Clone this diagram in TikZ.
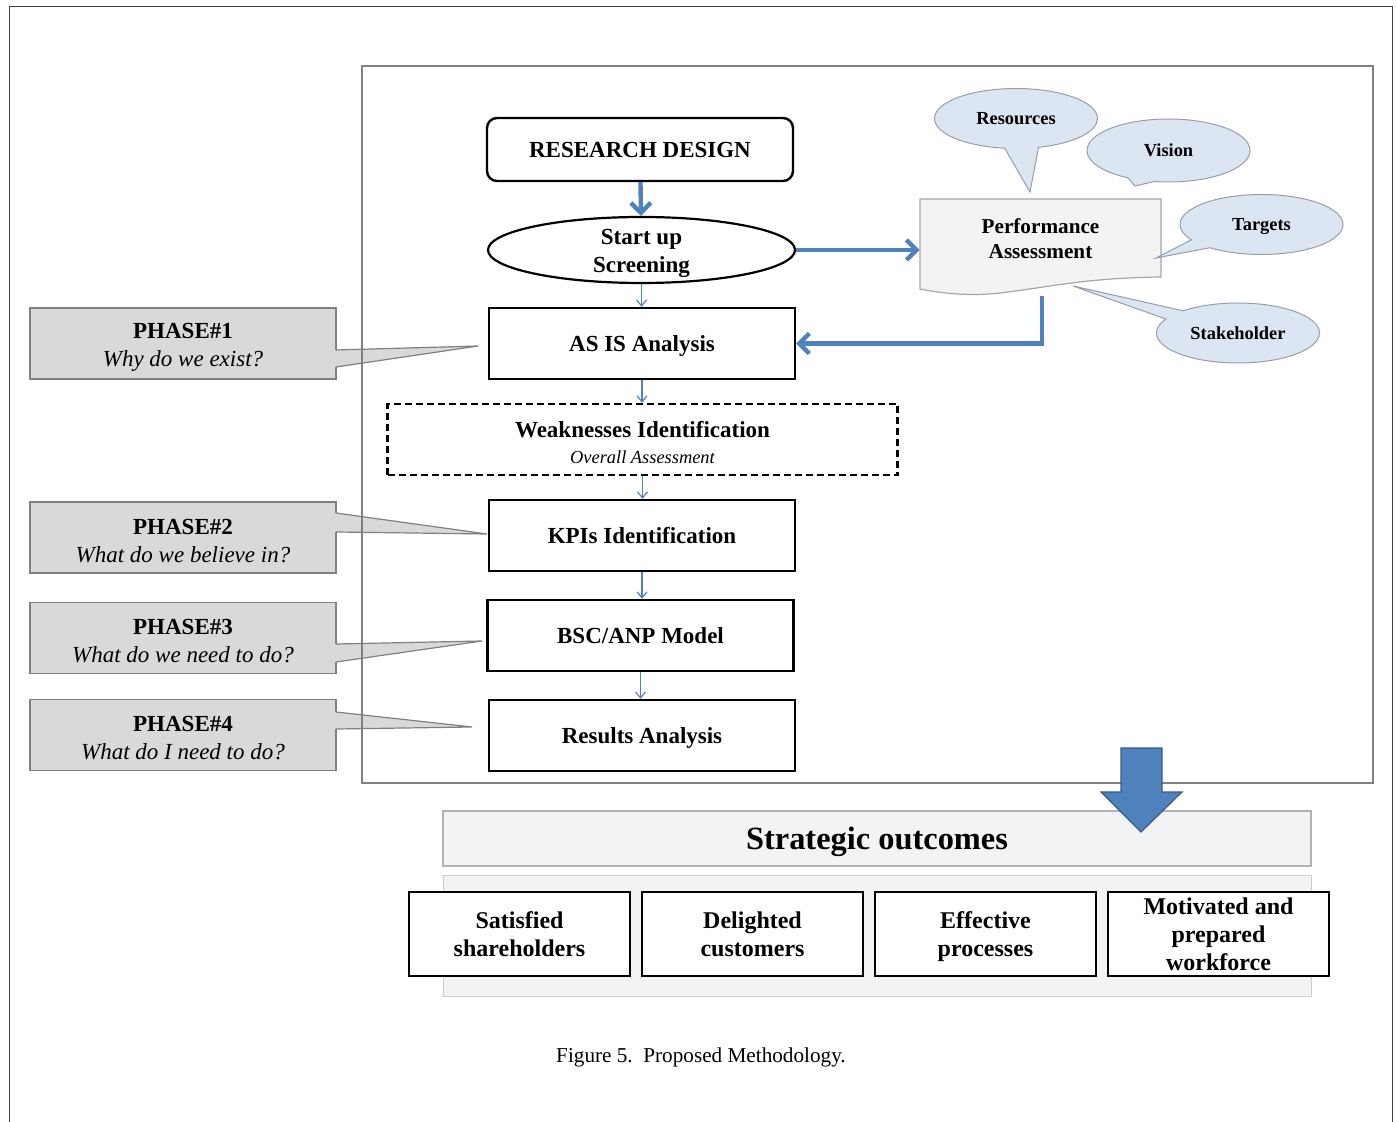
\documentclass[tikz,border=0pt]{standalone}
\usepackage{fontspec}
\setmainfont{Liberation Serif}
\usetikzlibrary{shapes, arrows.meta, positioning}

\definecolor{flowblue}{RGB}{79,129,189}
\definecolor{flowbluedark}{RGB}{56,93,138}
\definecolor{bubblefill}{RGB}{220,230,242}
\definecolor{bubbleline}{RGB}{150,158,170}
\definecolor{paperfill}{RGB}{243,243,244}
\definecolor{phasefill}{RGB}{217,217,217}
\definecolor{phaseline}{RGB}{128,128,128}
\definecolor{outfill}{RGB}{242,243,245}

\begin{document}
\begin{tikzpicture}[x=0.5pt, y=-0.5pt]
    \tikzstyle{startstop} = [rectangle, draw, rounded corners=5pt, line width=1.2pt, minimum width=153pt, minimum height=31.5pt, inner sep=0pt, text centered, text height=7.7pt, text depth=0pt, font=\fontsize{11.5}{14}\selectfont\bfseries]
    \tikzstyle{screening} = [ellipse, draw, line width=1.1pt, minimum width=153.5pt, minimum height=33pt, inner xsep=0pt, inner ysep=-3pt, align=center, font=\fontsize{11.5}{14}\selectfont\bfseries]
    \tikzstyle{process} = [rectangle, draw, line width=1.2pt, minimum width=153pt, minimum height=35.5pt, inner sep=0pt, text centered, text height=7.7pt, text depth=0pt, font=\fontsize{11.5}{14}\selectfont\bfseries]
    \tikzstyle{weakbox} = [rectangle, draw, line width=1.2pt, dash pattern=on 3.5pt off 2pt, minimum width=255pt, minimum height=35.5pt, inner sep=0pt, align=center, font=\fontsize{11.5}{13}\selectfont\bfseries]
    \tikzstyle{perfbox} = [rectangle, minimum width=120.5pt, inner sep=0pt, align=center, font=\fontsize{10.6}{12.5}\selectfont\bfseries]
    \tikzstyle{bubble} = [ellipse callout, draw=bubbleline, fill=bubblefill, line width=0.5pt, minimum width=81.5pt, minimum height=30pt, inner sep=0pt, callout pointer arc=20, text height=6.2pt, text depth=0pt, font=\fontsize{9.2}{11}\selectfont\bfseries]
    \tikzstyle{phase} = [rectangle, draw=phaseline, fill=phasefill, line width=0.6pt, minimum width=153pt, minimum height=35.5pt, inner sep=0pt, align=center, font=\fontsize{11.5}{14}\selectfont]
    \tikzstyle{outcome} = [rectangle, draw=gray!60, fill=outfill, line width=0.6pt, minimum width=434pt, minimum height=27.5pt, inner sep=0pt, text height=10.8pt, text depth=0pt, font=\fontsize{16.2}{19}\selectfont\bfseries]
    \tikzstyle{panelbox} = [rectangle, draw=gray!40, fill=outfill, line width=0.5pt, minimum width=434pt, minimum height=60.5pt, inner sep=0pt]
    \tikzstyle{goal} = [rectangle, draw, fill=white, line width=1.2pt, minimum width=110.5pt, minimum height=42pt, inner sep=0pt, align=center, font=\fontsize{12}{14}\selectfont\bfseries]
    \tikzstyle{thickarrow} = [draw=flowblue, line width=2.2pt, -{Straight Barb[length=5pt,width=10pt]}]
    \tikzstyle{thinarrow} = [draw=flowblue, line width=0.6pt, -{Straight Barb[length=3pt,width=5pt]}]

    \useasboundingbox (0,0) rectangle (1397,1122);

    % main flow
    \node (design) [startstop] at (640,149.5) {RESEARCH DESIGN};
    \node (screen) [screening] at (641.5,250) {\rule{0pt}{11.5pt}Start up\\Screening};
    \node (asis) [process] at (642,343.5) {AS IS Analysis};
    \node (weak) [weakbox] at (642.5,439.5) {\rule{0pt}{11pt}Weaknesses Identification\\{\fontsize{9.2}{11}\selectfont\mdseries\itshape Overall Assessment}};
    \node (kpi) [process] at (642,535.5) {KPIs Identification};
    \node (bsc) [process] at (640.5,635.5) {BSC/ANP Model};
    \node (results) [process] at (642,735.5) {Results Analysis};

    % performance assessment sheet
    \filldraw [fill=paperfill, draw=gray!70, line width=0.6pt] (920,199) -- (1161,199) -- (1161,277)
        .. controls (1085,278) and (1050,287) .. (1000,293)
        .. controls (965,297) and (935,292) .. (920,289) -- cycle;
    \node (perf) [perfbox] at (1040.5,238.5) {Performance\\Assessment};
    \coordinate (pabot) at (1042,296);

    \node (resources) [bubble, callout absolute pointer={(1030,192)}, callout pointer arc=24] at (1016,118.5) {Resources};
    \node (vision) [bubble, callout absolute pointer={(1135,186)}, minimum height=31.5pt] at (1168.5,150.5) {Vision};
    \node (targets) [bubble, callout absolute pointer={(1156,258)}] at (1261.5,224.5) {Targets};
    \node (stake) [bubble, callout absolute pointer={(1073,286)}] at (1238,333) {Stakeholder};

    % phases
    \node (phase1) [phase] at (183,343.5) {\rule{0pt}{11pt}\textbf{PHASE\#1}\\\textit{Why do we exist?}};
    \node (phase2) [phase] at (183,537.5) {\rule{0pt}{11pt}\textbf{PHASE\#2}\\\textit{What do we believe in?}};
    \node (phase3) [phase] at (183,638) {\rule{0pt}{11pt}\textbf{PHASE\#3}\\\textit{What do we need to do?}};
    \node (phase4) [phase] at (183,735) {\rule{0pt}{11pt}\textbf{PHASE\#4}\\\textit{What do I need to do?}};
    \foreach \ya/\yb/\tx/\ty in {350/367/478/346, 513/532/487/534, 644/662/482/641, 712/729/472/727} {
        \fill [phasefill] (335,\ya) -- (\tx,\ty) -- (335,\yb) -- cycle;
        \draw [phaseline, line width=0.6pt] (336,\ya) -- (\tx,\ty) -- (336,\yb);
    }

    % frames
    \draw [gray, line width=0.6pt] (362,66) rectangle (1373,783);
    \draw [black!75, line width=0.8pt] (9.5,1122) -- (9.5,6.5) -- (1392.5,6.5) -- (1392.5,1122);

    % Arrows
    \draw [thickarrow] (design) -- (screen);
    \draw [thickarrow] (screen) -- (screen -| perf.west);
    \draw [thickarrow] (pabot) |- (asis);
    \draw [thinarrow] (screen) -- (screen |- asis.north);
    \draw [thinarrow] (asis) -- (asis |- weak.north);
    \draw [thinarrow] (weak) -- (weak |- kpi.north);
    \draw [thinarrow] (kpi) -- (kpi |- bsc.north);
    \draw [thinarrow] (bsc) -- (bsc |- results.north);

    % outcomes
    \node (strategic) [outcome] at (877,838.5) {Strategic outcomes};
    \node (panel) [panelbox] at (877,935.5) {};
    \node (goal1) [goal] at (519.5,934) {Satisfied\\shareholders};
    \node (goal2) [goal, right=4.8pt of goal1] {Delighted\\customers};
    \node (goal3) [goal, right=4.8pt of goal2] {Effective\\\smash{processes}};
    \node (goal4) [goal, right=4.8pt of goal3] {Motivated and\\prepared\\workforce};

    \filldraw [fill=flowblue, draw=flowbluedark, line width=0.6pt] (1121,748) -- (1162,748) -- (1162,792) -- (1182,792) -- (1141,832) -- (1101,792) -- (1121,792) -- cycle;

    \node (caption) at (701,1057) {\fontsize{10.6}{12}\selectfont Figure 5.\ \ Proposed Methodology.};
\end{tikzpicture}
\end{document}
